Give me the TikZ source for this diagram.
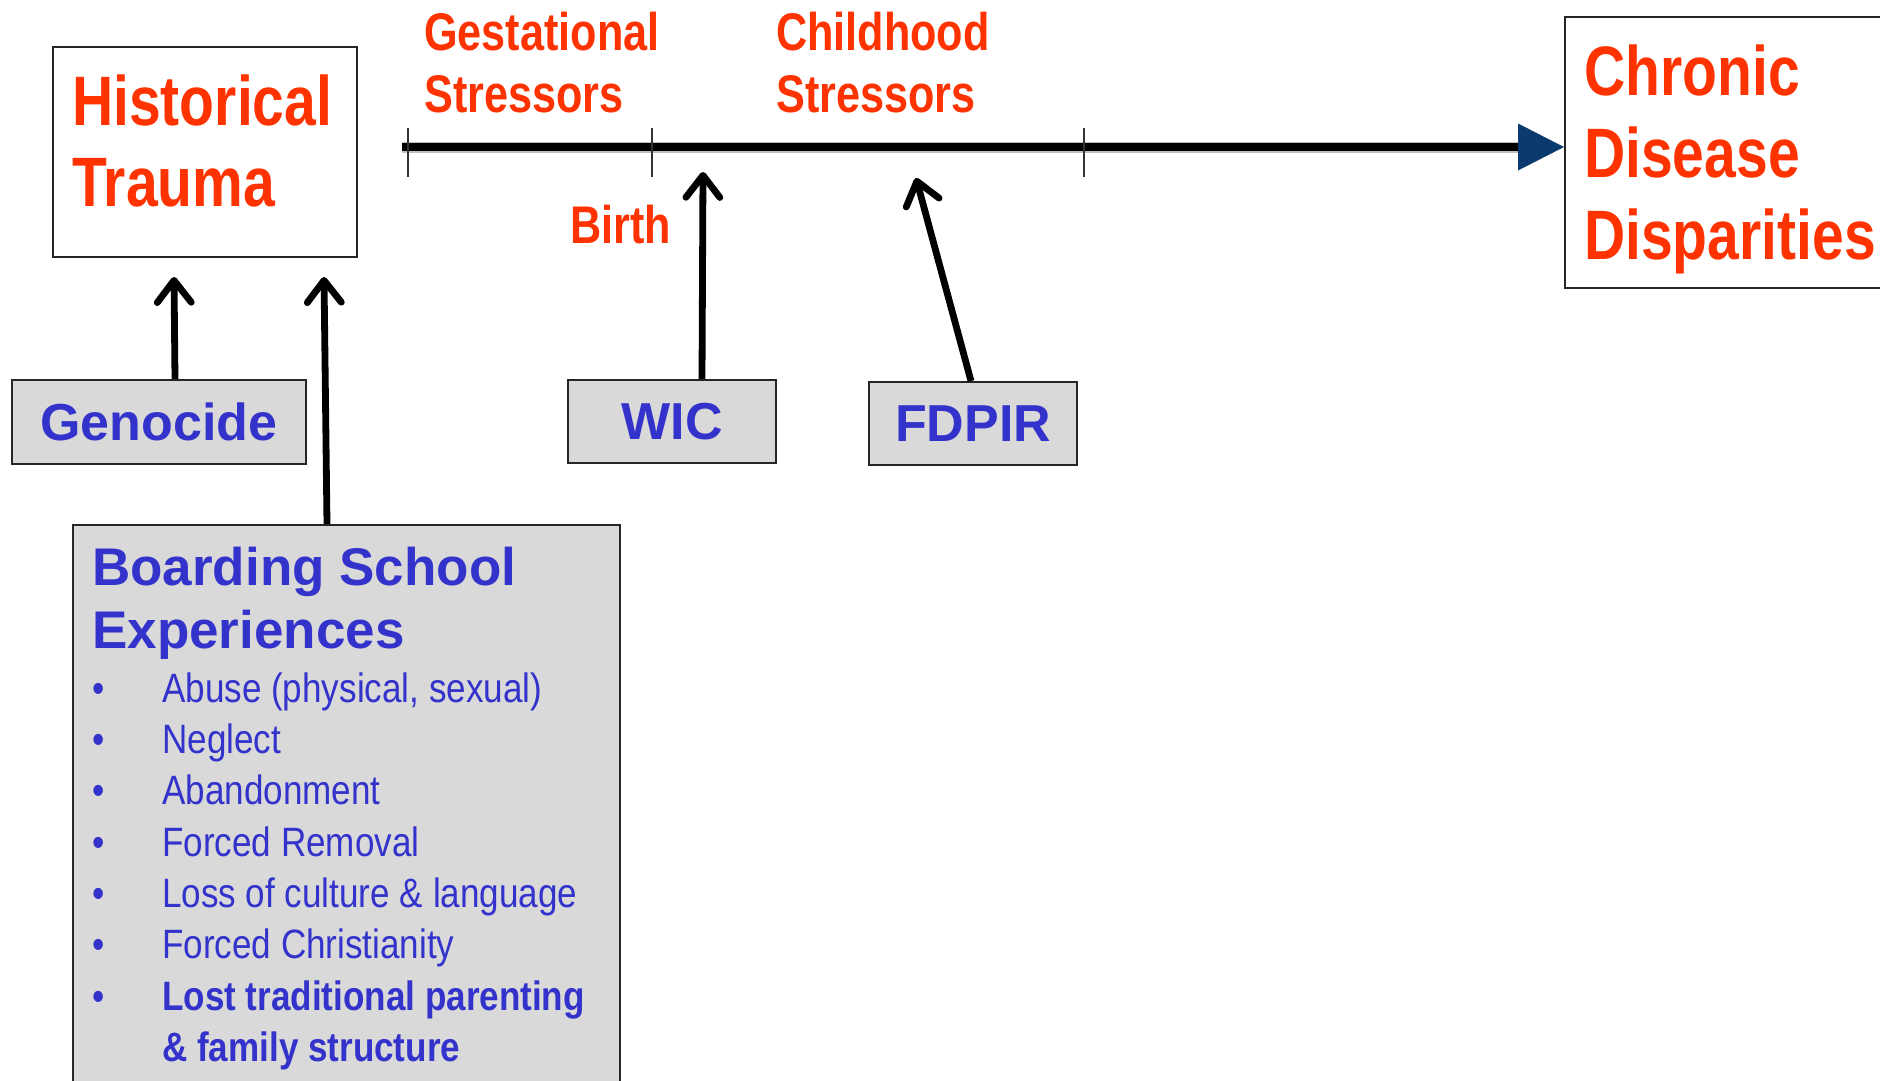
\documentclass[tikz,border=0pt]{standalone}
\usepackage{fontspec}
\setmainfont{Liberation Sans}
\newfontfamily\narrowA[FakeStretch=0.815]{Liberation Sans}
\newfontfamily\narrowB[FakeStretch=0.855]{Liberation Sans}
\usetikzlibrary{arrows.meta,calc}
\definecolor{tred}{HTML}{FF3300}
\definecolor{tblue}{HTML}{3333CC}
\definecolor{boxgray}{HTML}{D9D9D9}
\definecolor{tipblue}{HTML}{0B3A6E}
\begin{document}
\begin{tikzpicture}[x=1pt,y=-1pt,
  redhead/.style={text=tred, font=\narrowA\bfseries\fontsize{70}{80}\selectfont, anchor=base west, inner sep=0pt},
  redsmall/.style={text=tred, font=\narrowA\bfseries\fontsize{53}{62}\selectfont, anchor=base west, inner sep=0pt},
  whitebox/.style={draw=black!85, line width=2pt, fill=white, inner sep=0pt},
  graybox/.style={draw=black!85, line width=2pt, fill=boxgray, inner sep=0pt, text=tblue, font=\bfseries\fontsize{52}{60}\selectfont},
  bluetitle/.style={text=tblue, font=\bfseries\fontsize{53}{62}\selectfont, anchor=base west, inner sep=0pt},
  bullettext/.style={text=tblue, font=\narrowB\fontsize{41}{50}\selectfont, anchor=base west, inner sep=0pt},
  arr/.style={line width=6.8pt, -{Straight Barb[length=22pt,width=34pt,line cap=round,line join=round]}},
  tickmark/.style={line width=1.5pt, black!80},
]
\useasboundingbox (0,0) rectangle (1880,1080);
\fill[white] (0,0) rectangle (1880,1080);

% Historical Trauma
\node[whitebox, minimum width=304pt, minimum height=210pt] (ht) at (205,152) {};
\node[redhead] (ht1) at (72,125) {Historical};
\node[redhead] (ht2) at (72,206) {Trauma};

% Chronic Disease Disparities
\node[whitebox, minimum width=340pt, minimum height=271pt] (cdd) at (1735,152.5) {};
\node[redhead] (cdd1) at (1584,95) {Chronic};
\node[redhead] (cdd2) at (1584,177) {Disease};
\node[redhead] (cdd3) at (1584,259) {Disparities};

% timeline
\coordinate (tl0) at (402,147);
\draw[line width=11pt, black!25] (tl0) -- ($(tl0 -| cdd.west)+(-46,0)$);
\draw[line width=8pt, -{Triangle[length=46pt,width=47pt,color=tipblue,line width=0pt]}] (tl0) -- (tl0 -| cdd.west);
\foreach \tx in {408,652,1084} \draw[tickmark] (\tx,128) -- (\tx,177);

% timeline labels
\node[redsmall] (gs1) at (424,50) {Gestational};
\node[redsmall] (gs2) at (424,112) {Stressors};
\node[redsmall] (cs1) at (776,50) {Childhood};
\node[redsmall] (cs2) at (776,112) {Stressors};
\node[redsmall] (birth) at (570,243) {Birth};

% gray boxes
\node[graybox, minimum width=294pt, minimum height=84pt] (gen) at (159,422) {Genocide};
\node[graybox, minimum width=208pt, minimum height=83pt] (wic) at (672,421.5) {WIC};
\node[graybox, minimum width=208pt, minimum height=83pt] (fd) at (973,423.5) {FDPIR};
\node[graybox, minimum width=547pt, minimum height=600pt, anchor=north west] (bse) at (72,524) {};

% Boarding school content
\node[bluetitle] (bt1) at (92,585) {Boarding School};
\node[bluetitle] (bt2) at (92,648) {Experiences};
\node[bullettext] (d1) at (92,702) {•};
\node[bullettext] (d2) at (92,753) {•};
\node[bullettext] (d3) at (92,804.5) {•};
\node[bullettext] (d4) at (92,856) {•};
\node[bullettext] (d5) at (92,907) {•};
\node[bullettext] (d6) at (92,958) {•};
\node[bullettext] (d7) at (92,1010) {•};
\node[bullettext] (b1) at (162,702) {Abuse (physical, sexual)};
\node[bullettext] (b2) at (162,753) {Neglect};
\node[bullettext] (b3) at (162,804.5) {Abandonment};
\node[bullettext] (b4) at (162,856) {Forced Removal};
\node[bullettext] (b5) at (162,907) {Loss of culture \& language};
\node[bullettext] (b6) at (162,958) {Forced Christianity};
\node[bullettext, font=\narrowB\bfseries\fontsize{41}{50}\selectfont] (b7) at (162,1010) {Lost traditional parenting};
\node[bullettext, font=\narrowB\bfseries\fontsize{41}{50}\selectfont] (b8) at (162,1061) {\& family structure};

% arrows
\coordinate (tipG) at ($(ht.south west)+(122,19)$);
\coordinate (tipB) at ($(ht.south west)+(272,19)$);
\coordinate (tipW) at (703,172);
\coordinate (tipF) at (916,178);
\draw[arr] ($(gen.north west)+(164,0)$) -- (tipG);
\draw[arr] ($(bse.north west)+(255,0)$) -- (tipB);
\draw[arr] ($(wic.north west)+(135,0)$) -- (tipW);
\draw[arr] ($(fd.north west)+(103,0)$) -- (tipF);
\end{tikzpicture}
\end{document}
